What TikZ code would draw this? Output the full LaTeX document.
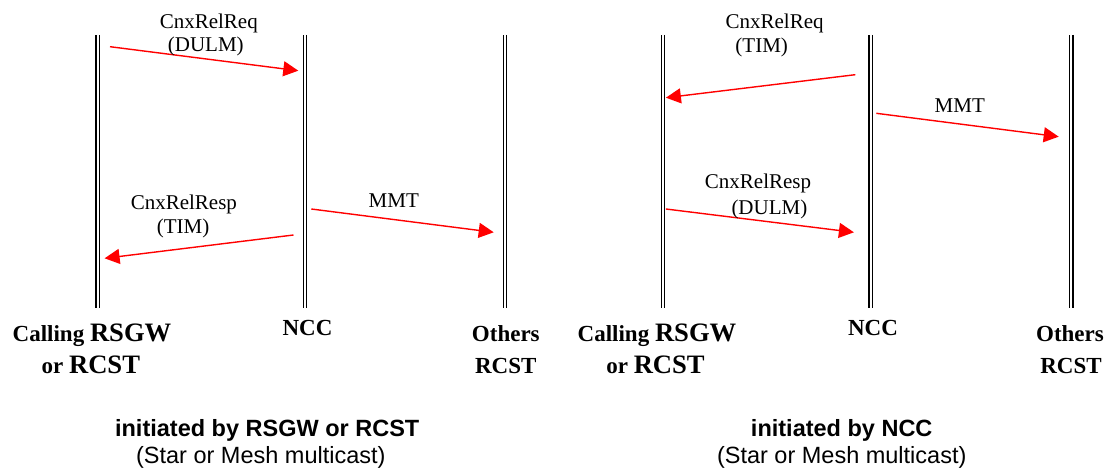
\documentclass[tikz,border=0pt]{standalone}
\usepackage{fontspec}
\setmainfont{Liberation Serif}
\newfontfamily\arialfont{Liberation Sans}
\usetikzlibrary{arrows.meta}
\newcommand{\smallbf}{\fontsize{23}{26}\selectfont}
\newcommand{\bigbf}{\fontsize{26.6}{30}\selectfont}
\begin{document}
\begin{tikzpicture}[x=1pt,y=-1pt,
  lifeline/.style={draw=black, double, double distance=2.2pt, line width=1.3pt},
  msg/.style={draw=red, line width=1.4pt, -{Triangle[length=15pt,width=15pt]}, red},
  msglabel/.style={anchor=base, inner sep=0pt, font=\fontsize{21}{24}\selectfont},
  actor/.style={anchor=base, inner sep=0pt, font=\bfseries},
  capbold/.style={anchor=base, inner sep=0pt, font=\arialfont\bfseries\fontsize{23.5}{27}\selectfont},
  capnorm/.style={anchor=base, inner sep=0pt, font=\arialfont\fontsize{23.5}{27}\selectfont}]
\useasboundingbox (0,0) rectangle (1111,470);

% ---------- left: release initiated by the RSGW / RCST ----------
\coordinate (la-t) at (97.7,35);  \coordinate (la-b) at (97.7,308);
\coordinate (lb-t) at (305,35);   \coordinate (lb-b) at (305,308);
\coordinate (lc-t) at (505,35);   \coordinate (lc-b) at (505,308);
\draw[lifeline] (la-t) -- (la-b);
\draw[lifeline] (lb-t) -- (lb-b);
\draw[lifeline] (lc-t) -- (lc-b);

\coordinate (lreq-s) at (110,46.7);   \coordinate (lreq-e) at (298.3,70.7);
\coordinate (lresp-s) at (293.5,235); \coordinate (lresp-e) at (104.6,258.3);
\coordinate (lmmt-s) at (311.3,209);  \coordinate (lmmt-e) at (493.7,232.3);
\draw[msg] (lreq-s) -- (lreq-e);
\draw[msg] (lresp-s) -- (lresp-e);
\draw[msg] (lmmt-s) -- (lmmt-e);

\node[msglabel] (lreq-l1) at (208.8,28.8) {CnxRelReq};
\node[msglabel] (lreq-l2) at (205.8,51.5) {(DULM)};
\node[msglabel] (lresp-l1) at (183.9,210) {CnxRelResp};
\node[msglabel] (lresp-l2) at (183.1,233.5) {(TIM)};
\node[msglabel] (lmmt-l) at (393.8,207.5) {MMT};

\node[actor] (la-n1) at (92,341.7) {\smallbf Calling \bigbf RSGW};
\node[actor] (la-n2) at (90.8,373.3) {\smallbf or \bigbf RCST};
\node[actor] (lb-n) at (307.5,335) {\smallbf NCC};
\node[actor] (lc-n1) at (505.8,341.7) {\smallbf Others};
\node[actor] (lc-n2) at (505.8,373.3) {\smallbf RCST};

\node[capbold] (lcap1) at (267.2,436.7) {initiated by RSGW or RCST};
\node[capnorm] (lcap2) at (260.8,463.3) {(Star or Mesh multicast)};

% ---------- right: release initiated by the NCC ----------
\coordinate (ra-t) at (663,35);    \coordinate (ra-b) at (663,308);
\coordinate (rb-t) at (870.7,35);  \coordinate (rb-b) at (870.7,308);
\coordinate (rc-t) at (1071.3,35); \coordinate (rc-b) at (1071.3,308);
\draw[lifeline] (ra-t) -- (ra-b);
\draw[lifeline] (rb-t) -- (rb-b);
\draw[lifeline] (rc-t) -- (rc-b);

\coordinate (rreq-s) at (855.3,74.7);  \coordinate (rreq-e) at (665.9,97.7);
\coordinate (rmmt-s) at (876.3,113.3); \coordinate (rmmt-e) at (1058.7,136.7);
\coordinate (rresp-s) at (665.9,209);  \coordinate (rresp-e) at (853.9,232.3);
\draw[msg] (rreq-s) -- (rreq-e);
\draw[msg] (rmmt-s) -- (rmmt-e);
\draw[msg] (rresp-s) -- (rresp-e);

\node[msglabel] (rreq-l1) at (774.6,28.8) {CnxRelReq};
\node[msglabel] (rreq-l2) at (761.7,53) {(TIM)};
\node[msglabel] (rmmt-l) at (959.8,113) {MMT};
\node[msglabel] (rresp-l1) at (758,189) {CnxRelResp};
\node[msglabel] (rresp-l2) at (769.4,214.5) {(DULM)};

\node[actor] (ra-n1) at (657,341.7) {\smallbf Calling \bigbf RSGW};
\node[actor] (ra-n2) at (655.5,373.3) {\smallbf or \bigbf RCST};
\node[actor] (rb-n) at (873,335) {\smallbf NCC};
\node[actor] (rc-n1) at (1070,341.7) {\smallbf Others};
\node[actor] (rc-n2) at (1071,373.3) {\smallbf RCST};

\node[capbold] (rcap1) at (841.7,436.7) {initiated by NCC};
\node[capnorm] (rcap2) at (841.7,463.3) {(Star or Mesh multicast)};
\end{tikzpicture}
\end{document}
